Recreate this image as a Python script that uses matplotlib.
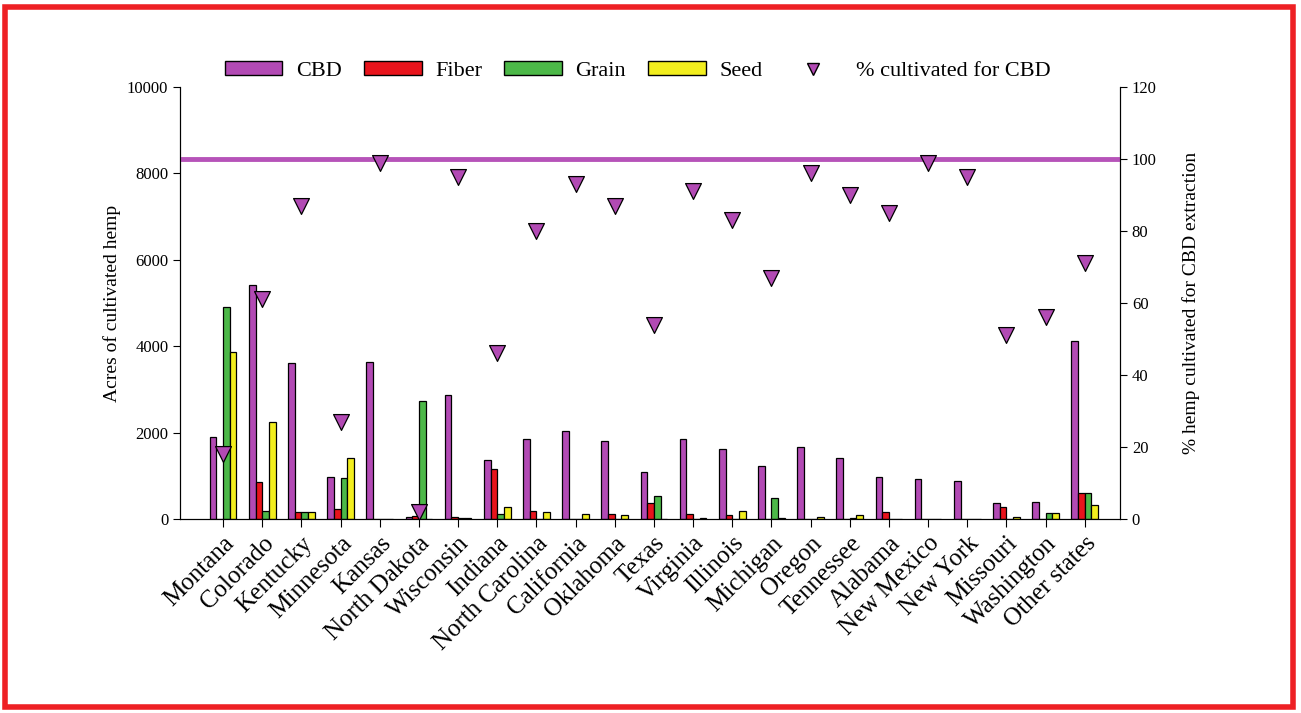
import matplotlib.pyplot as plt
import numpy as np
from matplotlib.patches import Patch, Rectangle
from matplotlib.lines import Line2D

plt.rcParams['font.family'] = ['Liberation Serif', 'DejaVu Serif']

# Hemp acreage by state and use
states = ['Montana', 'Colorado', 'Kentucky', 'Minnesota', 'Kansas', 'North Dakota',
          'Wisconsin', 'Indiana', 'North Carolina', 'California', 'Oklahoma', 'Texas',
          'Virginia', 'Illinois', 'Michigan', 'Oregon', 'Tennessee', 'Alabama',
          'New Mexico', 'New York', 'Missouri', 'Washington', 'Other states']
cbd = [1900, 5420, 3610, 980, 3630, 50, 2870, 1370, 1850, 2040, 1800, 1090,
       1850, 1620, 1230, 1670, 1410, 980, 930, 870, 370, 390, 4120]
fiber = [0, 860, 160, 230, 0, 80, 40, 1160, 190, 0, 120, 370,
         120, 90, 10, 0, 10, 160, 0, 0, 280, 0, 600]
grain = [4900, 190, 160, 950, 0, 2730, 20, 120, 0, 0, 0, 530,
         0, 0, 480, 0, 30, 0, 0, 0, 0, 130, 600]
seed = [3860, 2250, 170, 1410, 0, 0, 20, 280, 170, 120, 90, 10,
        20, 190, 20, 40, 90, 0, 0, 10, 40, 130, 320]
pct_cbd = [18, 61, 87, 27, 99, 2, 95, 46, 80, 93, 87, 54,
           91, 83, 67, 96, 90, 85, 99, 95, 51, 56, 71]

c_cbd = '#b24ab4'
c_fiber = '#e8141c'
c_grain = '#4cb848'
c_seed = '#f2ee1e'

fig = plt.figure(figsize=(13.01, 7.13), dpi=100)
fig.patches.append(Rectangle((0.004, 0.008), 0.99, 0.982, transform=fig.transFigure,
                             fill=False, edgecolor='#ee2024', linewidth=4))

ax = fig.add_axes([0.1384, 0.272, 0.7225, 0.606])
x = np.arange(len(states))
w = 0.17
for i, (vals, col) in enumerate([(cbd, c_cbd), (fiber, c_fiber), (grain, c_grain), (seed, c_seed)]):
    ax.bar(x + (i - 1.5) * w, vals, width=w, color=col, edgecolor='black', linewidth=0.9, zorder=2)

ax.set_xlim(-1.1, len(states) - 0.1)
ax.set_ylim(0, 10000)
ax.set_yticks(np.arange(0, 10001, 2000))
ax.set_ylabel('Acres of cultivated hemp', fontsize=14)
ax.set_xticks(x)
ax.set_xticklabels(states, rotation=45, ha='right', rotation_mode='anchor', fontsize=18)
ax.tick_params(axis='y', labelsize=12, direction='out', length=5)
ax.tick_params(axis='x', direction='out', length=6)
ax.spines['top'].set_visible(False)

ax2 = ax.twinx()
ax2.set_ylim(0, 120)
ax2.set_yticks(np.arange(0, 121, 20))
ax2.axhline(100, color='#b653b9', linewidth=3.5, zorder=1)
ax2.scatter(x, pct_cbd, marker='v', s=130, color=c_cbd, edgecolor='black', linewidth=0.9, zorder=3)
ax2.set_ylabel('% hemp cultivated for CBD extraction', fontsize=14, labelpad=18)
ax2.tick_params(axis='y', labelsize=12, direction='out', length=5)
ax2.spines['top'].set_visible(False)

handles = [Patch(facecolor=c_cbd, edgecolor='black', label='CBD'),
           Patch(facecolor=c_fiber, edgecolor='black', label='Fiber'),
           Patch(facecolor=c_grain, edgecolor='black', label='Grain'),
           Patch(facecolor=c_seed, edgecolor='black', label='Seed'),
           Line2D([], [], marker='v', linestyle='none', markersize=9, color=c_cbd,
                  markeredgecolor='black', label='% cultivated for CBD')]
fig.legend(handles=handles, loc='center', bbox_to_anchor=(0.49, 0.9), ncol=5, frameon=False,
           fontsize=16, handlelength=2.6, handleheight=0.6, columnspacing=1.0, handletextpad=0.6)

fig.savefig('out.png', dpi=100)
